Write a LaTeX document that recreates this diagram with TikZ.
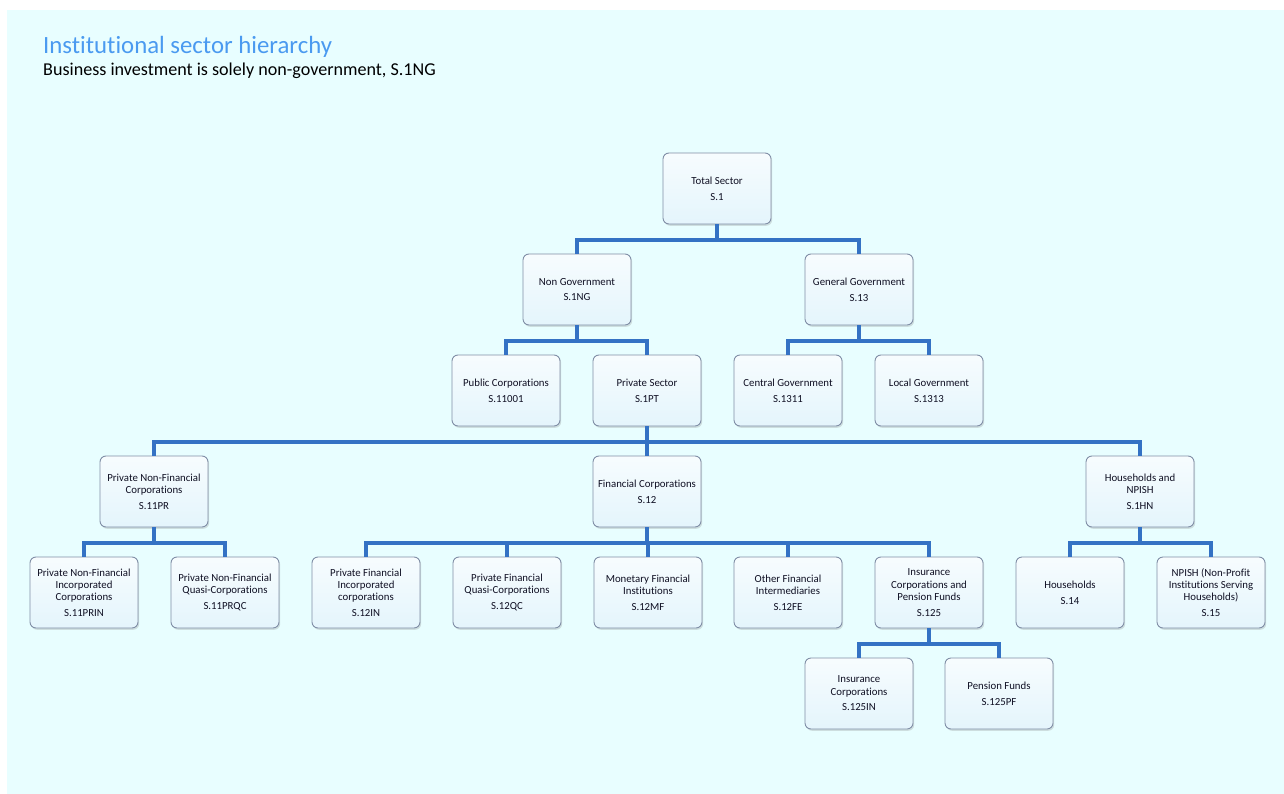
\documentclass[tikz,border=0pt]{standalone}
\usepackage{fontspec}
\setmainfont{Carlito}[Ligatures=NoCommon]
\usetikzlibrary{shadows}
\definecolor{bgc}{RGB}{232,254,255}
\definecolor{bord}{RGB}{128,142,166}
\definecolor{conc}{RGB}{52,114,196}
\definecolor{titc}{RGB}{74,154,240}
\definecolor{txtc}{RGB}{15,15,35}
\definecolor{boxbot}{RGB}{228,245,252}
\tikzset{
  box/.style={rectangle, rounded corners=6pt, draw=bord, line width=0.9pt,
    top color=white!70!boxbot, bottom color=boxbot,
    minimum width=108pt, minimum height=71pt, align=center, inner sep=2pt,
    font=\fontsize{10.8}{12.3}\selectfont, text=txtc,
    drop shadow={opacity=0.25, shadow xshift=1.2pt, shadow yshift=-1.8pt}},
  conn/.style={draw=conc, line width=3.4pt, line join=miter, line cap=butt},
}
\newcommand{\cd}[1]{\\[3.5pt]#1}
\begin{document}
\begin{tikzpicture}[x=1pt,y=-1pt]
\useasboundingbox (0,0) rectangle (1284,794);
\fill[bgc] (7,10) rectangle (1284,794);
\node[anchor=base west, text=titc, font=\fontsize{24.8}{28}\selectfont, inner sep=0] (title) at (43,54) {Institutional sector hierarchy};
\node[anchor=base west, text=black, font=\fontsize{18.1}{21}\selectfont, inner sep=0] (sub) at (43,76) {Business investment is solely non-government, S.1NG};

% row 1
\node[box] (ts) at (717,188.5) {Total Sector\cd{S.1}};
% row 2
\node[box] (ng) at (577,289.5) {Non Government\cd{S.1NG}};
\node[box] (gg) at (859,289.5) {General Government\cd{S.13}};
% row 3
\node[box] (pc) at (506,390.5) {Public Corporations\cd{S.11001}};
\node[box] (ps) at (647,390.5) {Private Sector\cd{S.1PT}};
\node[box] (cg) at (788,390.5) {Central Government\cd{S.1311}};
\node[box] (lg) at (929,390.5) {Local Government\cd{S.1313}};
% row 4
\node[box] (pnfc) at (154,491.5) {Private Non-Financial\\Corporations\cd{S.11PR}};
\node[box] (fc) at (647,491.5) {Financial Corporations\cd{S.12}};
\node[box] (hn) at (1140,491.5) {Households and\\NPISH\cd{S.1HN}};
% row 5
\node[box] (pnfi) at (84,592.5) {Private Non-Financial\\Incorporated\\Corporations\cd{S.11PRIN}};
\node[box] (pnfq) at (225,592.5) {Private Non-Financial\\Quasi-Corporations\cd{S.11PRQC}};
\node[box] (pfi) at (366,592.5) {Private Financial\\Incorporated\\corporations\cd{S.12IN}};
\node[box] (pfq) at (507,592.5) {Private Financial\\Quasi-Corporations\cd{S.12QC}};
\node[box] (mfi) at (648,592.5) {Monetary Financial\\Institutions\cd{S.12MF}};
\node[box] (ofi) at (788,592.5) {Other Financial\\Intermediaries\cd{S.12FE}};
\node[box] (icpf) at (929,592.5) {Insurance\\Corporations and\\Pension Funds\cd{S.125}};
\node[box] (hh) at (1070,592.5) {Households\cd{S.14}};
\node[box] (npish) at (1211,592.5) {NPISH (Non-Profit\\Institutions Serving\\Households)\cd{S.15}};
% row 6
\node[box] (ic) at (859,693.5) {Insurance\\Corporations\cd{S.125IN}};
\node[box] (pf) at (999,693.5) {Pension Funds\cd{S.125PF}};

% connectors
\foreach \p/\c in {ts/ng, ts/gg, ng/pc, ng/ps, gg/cg, gg/lg,
  ps/pnfc, ps/fc, ps/hn, pnfc/pnfi, pnfc/pnfq,
  fc/pfi, fc/pfq, fc/mfi, fc/ofi, fc/icpf, hn/hh, hn/npish, icpf/ic, icpf/pf}
  \draw[conn] (\p.south) -- ++(0,15.5) -| (\c.north);
\end{tikzpicture}
\end{document}
